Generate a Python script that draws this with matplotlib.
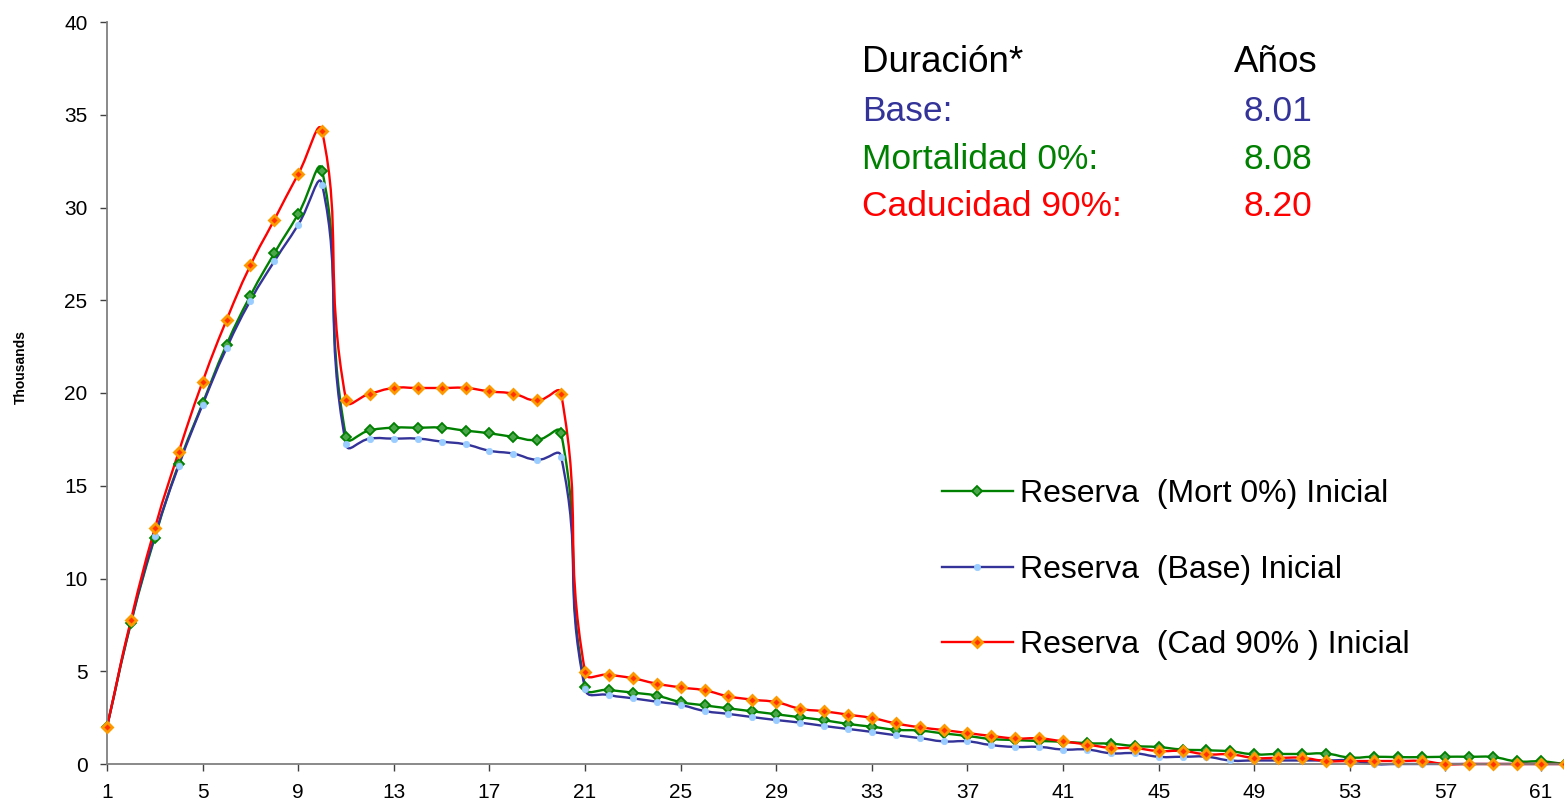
import numpy as np
import matplotlib
matplotlib.use('Agg')
import matplotlib.pyplot as plt
from matplotlib.path import Path
from matplotlib.patches import PathPatch
from matplotlib.lines import Line2D

plt.rcParams['font.family'] = ['Liberation Sans', 'DejaVu Sans']

# años de proyección
years = np.arange(1, 63)

# reserva inicial (miles) por escenario
reserva_mort = [
    2.0, 7.58, 12.2, 16.17, 19.44, 22.6, 25.25, 27.53, 29.65, 31.99,
    17.64, 17.99, 18.13, 18.13, 18.13, 17.97, 17.83, 17.63, 17.47, 17.83,
    4.17, 3.99, 3.85, 3.68, 3.34, 3.16, 3.0, 2.84, 2.68, 2.52,
    2.36, 2.16, 2.01, 1.85, 1.80, 1.65, 1.51, 1.35, 1.29, 1.24,
    1.2, 1.12, 1.09, 0.97, 0.91, 0.78, 0.74, 0.68, 0.52, 0.54,
    0.54, 0.56, 0.35, 0.39, 0.37, 0.37, 0.39, 0.39, 0.37, 0.14,
    0.14, 0.0,
]
reserva_base = [
    2.0, 7.64, 12.29, 16.08, 19.37, 22.41, 24.98, 27.1, 29.07, 31.23,
    17.23, 17.54, 17.54, 17.54, 17.38, 17.23, 16.89, 16.73, 16.4, 16.57,
    4.06, 3.72, 3.54, 3.36, 3.18, 2.86, 2.70, 2.53, 2.37, 2.23,
    2.05, 1.89, 1.73, 1.55, 1.40, 1.22, 1.22, 1.02, 0.92, 0.92,
    0.78, 0.78, 0.58, 0.58, 0.39, 0.39, 0.39, 0.19, 0.19, 0.19,
    0.19, 0.19, 0.19, 0.0, 0.0, 0.0, 0.0, 0.0, 0.0, 0.0,
    0.0, 0.0,
]
reserva_cad = [
    2.0, 7.76, 12.7, 16.82, 20.61, 23.93, 26.88, 29.34, 31.8, 34.1,
    19.62, 19.96, 20.27, 20.27, 20.27, 20.27, 20.09, 19.96, 19.6, 19.96,
    4.96, 4.81, 4.62, 4.33, 4.13, 3.97, 3.65, 3.47, 3.33, 2.98,
    2.84, 2.66, 2.48, 2.19, 1.98, 1.83, 1.67, 1.51, 1.38, 1.38,
    1.22, 1.05, 0.87, 0.85, 0.70, 0.70, 0.52, 0.52, 0.33, 0.33,
    0.33, 0.16, 0.16, 0.16, 0.16, 0.16, 0.0, 0.0, 0.0, 0.0,
    0.0, 0.0,
]

labels = ['Reserva  (Mort 0%) Inicial', 'Reserva  (Base) Inicial',
          'Reserva  (Cad 90% ) Inicial']

duracion_labels = ['Base:', 'Mortalidad 0%:', 'Caducidad 90%:']
duracion_values = ['8.01', '8.08', '8.20']

line_colors = ['#008000', '#333399', '#FF0000']
marker_styles = [
    dict(marker='D', markersize=4.6, markerfacecolor='#4CA64C',
         markeredgecolor='#008000', markeredgewidth=1.3),
    dict(marker='o', markersize=4.6, markerfacecolor='#99CCFF',
         markeredgecolor='#99CCFF', markeredgewidth=0.5),
    dict(marker='D', markersize=5.2, markerfacecolor='#FF3300',
         markeredgecolor='#FF9900', markeredgewidth=2.0),
]


def smooth_path(ax, xs, ys, k=0.5):
    # curva suavizada tipo Excel (Bezier con tangentes proporcionales)
    pts = ax.transData.transform(np.column_stack([xs, ys]))
    n = len(pts)
    verts = [pts[0]]
    codes = [Path.MOVETO]
    for i in range(n - 1):
        p0 = pts[max(i - 1, 0)]
        p1 = pts[i]
        p2 = pts[i + 1]
        p3 = pts[min(i + 2, n - 1)]
        d01 = np.hypot(*(p1 - p0))
        d12 = np.hypot(*(p2 - p1))
        d23 = np.hypot(*(p3 - p2))
        c1 = p1 + (p2 - p0) * k * d12 / max(d01 + d12, 1e-9)
        c2 = p2 - (p3 - p1) * k * d12 / max(d12 + d23, 1e-9)
        verts += [c1, c2, p2]
        codes += [Path.CURVE4] * 3
    data = ax.transData.inverted().transform(np.array(verts))
    return Path(data, codes)


W, H = 1564, 809
fig = plt.figure(figsize=(W / 100, H / 100), dpi=100)
ax = fig.add_axes([107 / W, 1 - 764 / H, (1565 - 107) / W, (764 - 22) / H])
ax.set_xlim(1, 62)
ax.set_ylim(0, 40)

series = [reserva_mort, reserva_base, reserva_cad]
for vals, color, mstyle in zip(series, line_colors, marker_styles):
    path = smooth_path(ax, years, vals)
    ax.add_patch(PathPatch(path, facecolor='none', edgecolor=color,
                           linewidth=1.7, clip_on=False, zorder=2))
    ax.plot(years, vals, linestyle='none', clip_on=False, zorder=3, **mstyle)

ax.set_xticks(np.arange(1, 62, 4))
ax.set_yticks(np.arange(0, 41, 5))
ax.tick_params(axis='both', labelsize=15, length=5, width=1, color='#404040',
               direction='out')
ax.tick_params(axis='y', pad=9)
ax.tick_params(axis='x', pad=9)
for side in ['top', 'right']:
    ax.spines[side].set_visible(False)
for side in ['left', 'bottom']:
    ax.spines[side].set_color('#808080')
    ax.spines[side].set_linewidth(1.3)

fig.text(21 / W, 1 - 367 / H, 'Thousands', rotation=90, fontsize=10,
         fontweight='bold', ha='center', va='center')

# cuadro de duraciones
fs = 25.5
fig.text(862 / W, 1 - 72 / H, 'Duración*', fontsize=fs + 1, color='black',
         va='baseline')
fig.text(1276 / W, 1 - 72 / H, 'Años', fontsize=fs + 1, color='black',
         va='baseline', ha='center')
baselines = [121, 169, 216]
for lab, val, color, yb in zip(duracion_labels, duracion_values,
                               ['#333399', '#008000', '#FF0000'], baselines):
    fig.text(862 / W, 1 - yb / H, lab, fontsize=fs, color=color,
             va='baseline')
    fig.text(1312 / W, 1 - yb / H, val, fontsize=fs, color=color,
             va='baseline', ha='right')

handles = [Line2D([0], [0], color=c, linewidth=1.7, **m)
           for c, m in zip(line_colors, marker_styles)]
fig.legend(handles, labels, loc='upper left',
           bbox_to_anchor=(942 / W, 1 - 479 / H), frameon=False,
           fontsize=23, handlelength=2.22, handletextpad=0.22,
           labelspacing=1.43, borderpad=0, borderaxespad=0)

fig.savefig('out.png', dpi=100)
